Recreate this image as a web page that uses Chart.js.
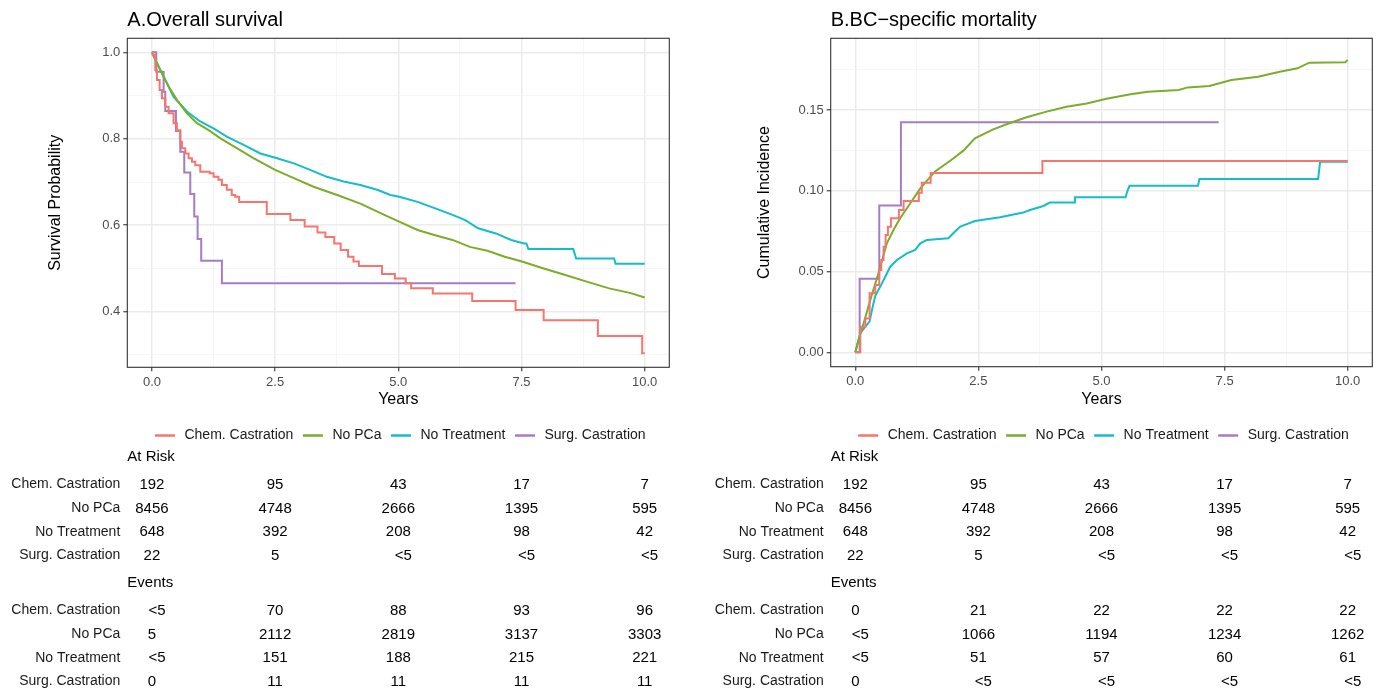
<!DOCTYPE html>
<html>
<head>
<meta charset="utf-8">
<script src="https://cdn.jsdelivr.net/npm/chart.js@4.4.1/dist/chart.umd.min.js"></script>
<style>
  html, body { margin: 0; padding: 0; background: #fff; }
  #wrap { position: relative; width: 1378px; height: 691px; overflow: hidden; }
  canvas { position: absolute; top: 0; }
</style>
</head>
<body>
<div id="wrap">
  <canvas id="chartA" width="689" height="691" style="left:0"></canvas>
  <canvas id="chartB" width="689" height="691" style="left:689px"></canvas>
</div>
<script>
var FONT = '"Liberation Sans", Arial, Helvetica, sans-serif';

var groups = ['Chem. Castration', 'No PCa', 'No Treatment', 'Surg. Castration'];
var colors = ['#F5766E', '#7AAE2A', '#14BEC4', '#A67CC3'];

var xTicks = [0, 2.5, 5, 7.5, 10];
var xTickLabels = ['0.0', '2.5', '5.0', '7.5', '10.0'];
var xMinor = [1.25, 3.75, 6.25, 8.75];

var osTicks = [0.4, 0.6, 0.8, 1.0];
var osTickLabels = ['0.4', '0.6', '0.8', '1.0'];
var osMinor = [0.3, 0.5, 0.7, 0.9];

var bcTicks = [0, 0.05, 0.10, 0.15];
var bcTickLabels = ['0.00', '0.05', '0.10', '0.15'];
var bcMinor = [0.025, 0.075, 0.125, 0.175];

// A. overall survival  [years, survival]
var osChem = [[0,1.0],[0.02,0.994],[0.068,0.959],[0.101,0.936],[0.156,0.913],[0.203,0.894],[0.271,0.874],[0.338,0.859],[0.44,0.836],[0.507,0.820],[0.575,0.793],[0.609,0.778],[0.677,0.766],[0.744,0.755],[0.812,0.747],[0.88,0.739],[0.981,0.724],[1.17,0.720],[1.25,0.712],[1.35,0.705],[1.42,0.693],[1.52,0.682],[1.62,0.670],[1.69,0.666],[1.77,0.654],[2.33,0.626],[2.81,0.612],[3.10,0.597],[3.36,0.583],[3.52,0.573],[3.70,0.558],[3.83,0.543],[3.98,0.527],[4.09,0.516],[4.20,0.506],[4.67,0.487],[4.93,0.477],[5.15,0.466],[5.26,0.454],[5.70,0.442],[6.50,0.425],[7.38,0.404],[7.95,0.380],[9.05,0.344],[9.95,0.304],[10.0,0.304]];
var osNoPca = [[0,1.0],[0.169,0.959],[0.338,0.921],[0.507,0.890],[0.71,0.859],[0.913,0.836],[1.15,0.820],[1.39,0.801],[1.73,0.778],[2.06,0.755],[2.50,0.728],[2.88,0.709],[3.28,0.689],[3.76,0.670],[4.23,0.650],[4.77,0.621],[5.04,0.607],[5.39,0.589],[5.75,0.577],[6.10,0.566],[6.45,0.550],[6.81,0.541],[7.16,0.527],[7.51,0.516],[7.95,0.500],[8.39,0.485],[8.84,0.469],[9.28,0.454],[9.72,0.443],[10.0,0.433]];
var osNoTreat = [[0,1.0],[0.101,0.975],[0.237,0.944],[0.44,0.897],[0.71,0.863],[0.98,0.840],[1.25,0.824],[1.52,0.805],[1.86,0.786],[2.20,0.766],[2.54,0.755],[2.88,0.743],[3.21,0.728],[3.55,0.712],[3.89,0.701],[4.23,0.693],[4.57,0.682],[4.84,0.670],[5.02,0.666],[5.39,0.654],[5.75,0.639],[6.10,0.624],[6.36,0.612],[6.62,0.593],[6.98,0.581],[7.29,0.566],[7.55,0.558],[7.60,0.558],[7.64,0.545],[8.55,0.545],[8.61,0.523],[9.38,0.523],[9.41,0.511],[10.0,0.511]];
var osSurg = [[0,1.0],[0.088,0.955],[0.237,0.909],[0.27,0.864],[0.487,0.818],[0.575,0.770],[0.656,0.722],[0.778,0.672],[0.859,0.620],[0.927,0.568],[1.0,0.518],[1.42,0.466],[7.38,0.466]];

// B. BC-specific mortality  [years, cumulative incidence]
var bcChem = [[0,0],[0.101,0.0159],[0.203,0.021],[0.29,0.0365],[0.405,0.0417],[0.486,0.051],[0.527,0.0572],[0.574,0.0654],[0.615,0.0726],[0.662,0.0778],[0.723,0.083],[0.885,0.0881],[0.98,0.0937],[1.29,0.0988],[1.35,0.105],[1.53,0.111],[3.80,0.1185],[10.0,0.1185]];
var bcNoPca = [[0,0],[0.068,0.008],[0.169,0.018],[0.30,0.032],[0.40,0.042],[0.49,0.051],[0.64,0.0675],[0.78,0.076],[0.91,0.083],[1.11,0.092],[1.32,0.1015],[1.62,0.112],[1.99,0.120],[2.20,0.125],[2.43,0.1325],[2.80,0.138],[3.14,0.142],[3.48,0.1455],[3.885,0.149],[4.29,0.152],[4.70,0.154],[5.10,0.157],[5.59,0.1597],[5.94,0.1613],[6.57,0.1624],[6.75,0.164],[7.19,0.1649],[7.64,0.1686],[8.18,0.1706],[8.62,0.1737],[8.98,0.1758],[9.22,0.1793],[9.95,0.1795],[10.0,0.181]];
var bcNoTreat = [[0,0],[0.047,0.0056],[0.101,0.0118],[0.203,0.0159],[0.29,0.019],[0.338,0.0262],[0.405,0.035],[0.507,0.0407],[0.608,0.0468],[0.709,0.053],[0.845,0.0572],[1.047,0.0613],[1.216,0.0634],[1.318,0.0675],[1.453,0.0695],[1.89,0.0706],[1.99,0.0737],[2.13,0.0778],[2.43,0.0813],[2.94,0.0836],[3.41,0.0865],[3.55,0.0881],[3.82,0.0906],[3.95,0.0927],[4.45,0.0927],[4.46,0.096],[5.49,0.096],[5.52,0.0994],[5.57,0.1031],[6.96,0.1031],[6.99,0.1073],[9.40,0.1073],[9.44,0.118],[10.0,0.118]];
var bcSurg = [[0,0],[0.088,0.0455],[0.486,0.0909],[0.926,0.1424],[7.38,0.1424]];

// risk tables
var riskOS = [['192','95','43','17','7'],['8456','4748','2666','1395','595'],['648','392','208','98','42'],['22','5','<5','<5','<5']];
var eventsOS = [['<5','70','88','93','96'],['5','2112','2819','3137','3303'],['<5','151','188','215','221'],['0','11','11','11','11']];
var riskBC = [['192','95','43','17','7'],['8456','4748','2666','1395','595'],['648','392','208','98','42'],['22','5','<5','<5','<5']];
var eventsBC = [['0','21','22','22','22'],['<5','1066','1194','1234','1262'],['<5','51','57','60','61'],['0','<5','<5','<5','<5']];

function hasVal(arr, v) {
    return arr.some(function (a) { return Math.abs(a - v) < 1e-9; });
}
function labelFor(vals, labels, v) {
    for (var i = 0; i < vals.length; i++) {
        if (Math.abs(vals[i] - v) < 1e-9) return labels[i];
    }
    return '';
}
function toXY(arr) {
    return arr.map(function (p) { return { x: p[0], y: p[1] }; });
}

var panelPlugin = {
    id: 'panel',
    afterDraw: function (chart, args, opts) {
        var ctx = chart.ctx, a = chart.chartArea, xs = chart.scales.x;
        ctx.save();
        // panel border
        ctx.strokeStyle = '#333333';
        ctx.lineWidth = 1.1;
        ctx.strokeRect(a.left, a.top, a.right - a.left, a.bottom - a.top);

        // title
        ctx.fillStyle = '#000';
        ctx.font = '20px ' + FONT;
        ctx.textAlign = 'left';
        ctx.textBaseline = 'alphabetic';
        ctx.fillText(opts.title, a.left, 26);

        // legend
        ctx.font = '14px ' + FONT;
        ctx.textBaseline = 'middle';
        var segW = 20, gap = 9.5, sep = 9.5, ly = 435.5;
        var total = 0;
        groups.forEach(function (g, i) {
            total += segW + gap + ctx.measureText(g).width + (i < groups.length - 1 ? sep : 0);
        });
        var lx = (a.left + a.right) / 2 - total / 2 + 2;
        groups.forEach(function (g, i) {
            ctx.strokeStyle = colors[i];
            ctx.lineWidth = 2.5;
            ctx.beginPath();
            ctx.moveTo(lx, ly);
            ctx.lineTo(lx + segW, ly);
            ctx.stroke();
            lx += segW + gap;
            ctx.fillStyle = '#1a1a1a';
            ctx.fillText(g, lx, ly);
            lx += ctx.measureText(g).width + sep;
        });

        // tables
        function table(header, hy, rows, ys) {
            ctx.fillStyle = '#000';
            ctx.font = '15px ' + FONT;
            ctx.textAlign = 'left';
            ctx.fillText(header, a.left, hy);
            rows.forEach(function (row, r) {
                ctx.font = '14px ' + FONT;
                ctx.textAlign = 'right';
                ctx.fillStyle = '#1a1a1a';
                ctx.fillText(groups[r], a.left - 7, ys[r]);
                ctx.font = '15px ' + FONT;
                ctx.textAlign = 'center';
                ctx.fillStyle = '#000';
                row.forEach(function (txt, c) {
                    var px = xs.getPixelForValue(xTicks[c]);
                    if (txt === '<5') px += 5;
                    ctx.fillText(txt, px, ys[r]);
                });
            });
        }
        table('At Risk', 457, opts.risk, [484.5, 508.5, 532, 555.5]);
        table('Events', 583, opts.events, [610.5, 634.5, 658, 681.5]);
        ctx.restore();
    }
};

function gridStyle(majorVals) {
    return {
        color: function (c) { return hasVal(majorVals, c.tick.value) ? '#EBEBEB' : '#F4F4F4'; },
        lineWidth: function (c) { return hasVal(majorVals, c.tick.value) ? 1.5 : 0.8; },
        tickColor: function (c) { return hasVal(majorVals, c.tick.value) ? '#333333' : 'rgba(0,0,0,0)'; },
        tickLength: 4,
        tickWidth: 1.1,
        drawTicks: true
    };
}

function makeChart(id, cfg) {
    var series = cfg.series;
    new Chart(document.getElementById(id).getContext('2d'), {
        type: 'line',
        data: {
            datasets: groups.map(function (g, i) {
                return {
                    label: g,
                    data: toXY(series[i]),
                    borderColor: colors[i],
                    backgroundColor: colors[i],
                    borderWidth: 2,
                    pointRadius: 0,
                    fill: false,
                    tension: 0,
                    stepped: cfg.stepped[i] ? 'before' : false
                };
            })
        },
        options: {
            responsive: false,
            animation: false,
            layout: { padding: cfg.padding },
            plugins: {
                legend: { display: false },
                tooltip: { enabled: false },
                panel: { title: cfg.title, risk: cfg.risk, events: cfg.events }
            },
            scales: {
                x: {
                    type: 'linear',
                    min: -0.5,
                    max: 10.5,
                    afterBuildTicks: function (s) {
                        s.ticks = xTicks.concat(xMinor).sort(function (p, q) { return p - q; })
                            .map(function (v) { return { value: v }; });
                    },
                    afterFit: function (s) { s.height = 50; },
                    ticks: {
                        autoSkip: false, maxRotation: 0, padding: 3,
                        color: '#4D4D4D', font: { size: 13, family: FONT },
                        callback: function (v) { return labelFor(xTicks, xTickLabels, v); }
                    },
                    grid: gridStyle(xTicks),
                    border: { display: false },
                    title: {
                        display: true, text: 'Years', color: '#000',
                        font: { size: 16, family: FONT },
                        padding: { top: 0, bottom: 7.7 }
                    }
                },
                y: {
                    type: 'linear',
                    min: cfg.yMin,
                    max: cfg.yMax,
                    afterBuildTicks: function (s) {
                        s.ticks = cfg.yTicks.concat(cfg.yMinor).sort(function (p, q) { return p - q; })
                            .map(function (v) { return { value: v }; });
                    },
                    afterFit: function (s) { s.width = cfg.yWidth; },
                    ticks: {
                        autoSkip: false, padding: 3,
                        color: '#4D4D4D', font: { size: 13, family: FONT },
                        callback: function (v) { return labelFor(cfg.yTicks, cfg.yTickLabels, v); }
                    },
                    grid: gridStyle(cfg.yTicks),
                    border: { display: false },
                    title: {
                        display: true, text: cfg.yTitle, color: '#000',
                        font: { size: 16, family: FONT },
                        padding: { top: cfg.yTitlePad, bottom: 0 }
                    }
                }
            }
        },
        plugins: [panelPlugin]
    });
}

document.addEventListener('DOMContentLoaded', function () {
    makeChart('chartA', {
        title: 'A.Overall survival',
        series: [osChem, osNoPca, osNoTreat, osSurg],
        stepped: [true, false, false, true],
        yMin: 0.2714, yMax: 1.0324,
        yTicks: osTicks, yTickLabels: osTickLabels, yMinor: osMinor,
        yTitle: 'Survival Probability', yTitlePad: 46, yWidth: 127.3,
        padding: { left: 0, top: 38.3, right: 19.7, bottom: 273.7 },
        risk: riskOS, events: eventsOS
    });
    makeChart('chartB', {
        title: 'B.BC\u2212specific mortality',
        series: [bcChem, bcNoPca, bcNoTreat, bcSurg],
        stepped: [true, false, false, true],
        yMin: -0.0089, yMax: 0.1944,
        yTicks: bcTicks, yTickLabels: bcTickLabels, yMinor: bcMinor,
        yTitle: 'Cumulative Incidence', yTitlePad: 66, yWidth: 141.7,
        padding: { left: 0, top: 38.3, right: 5.7, bottom: 274.3 },
        risk: riskBC, events: eventsBC
    });
});
</script>
</body>
</html>
